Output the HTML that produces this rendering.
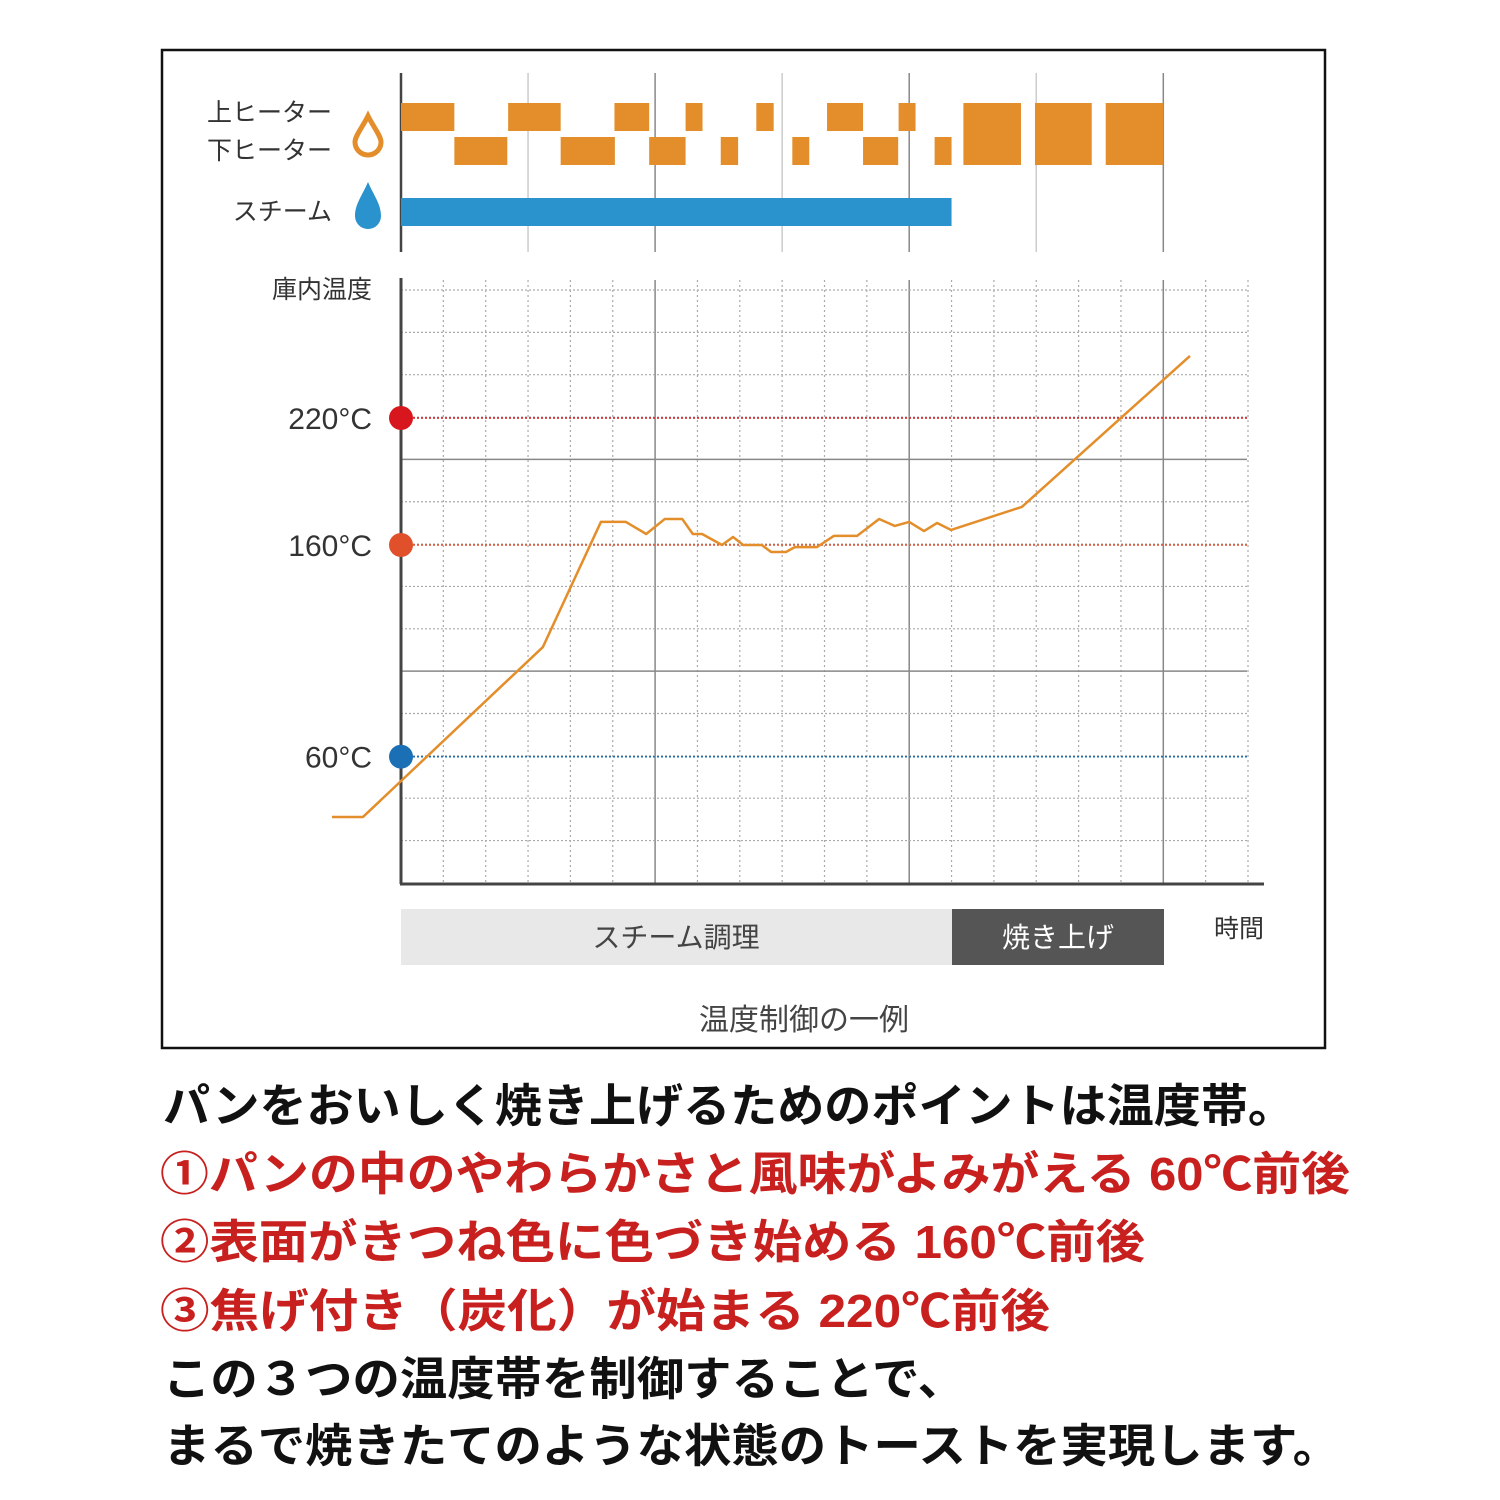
<!DOCTYPE html>
<html><head><meta charset="utf-8"><style>
html,body{margin:0;padding:0;background:#fff;}
svg{display:block;font-family:"Liberation Sans","Noto Sans CJK JP",sans-serif;}
</style></head><body>
<svg id="chart" width="1500" height="1500" viewBox="0 0 1500 1500" xmlns="http://www.w3.org/2000/svg">
<rect x="162" y="50" width="1163" height="998" fill="none" stroke="#111" stroke-width="2.5"/>
<g id="grid"></g>
<g id="bars"></g>
<g id="temp"></g>
<g font-size="25" fill="#333">
<text x="332" y="121" text-anchor="end">上ヒーター</text>
<text x="332" y="159" text-anchor="end">下ヒーター</text>
<text x="332" y="220" text-anchor="end">スチーム</text>
<text x="372" y="298" text-anchor="end">庫内温度</text>
<text x="1264" y="937" text-anchor="end">時間</text>
</g>
<path d="M368,116 C362,128 355,136 355,142 A13,13 0 0 0 381,142 C381,136 374,128 368,116 Z" fill="#fff" stroke="#e38e2b" stroke-width="5"/>
<path d="M368,182 C362,196 355,204 355,216 A13,13 0 0 0 381,216 C381,204 374,196 368,182 Z" fill="#2a93cd"/>
<rect x="401" y="909" width="551" height="56" fill="#e8e8e8"/>
<text x="676" y="947" text-anchor="middle" font-size="28" fill="#444">スチーム調理</text>
<rect x="952" y="909" width="212" height="56" fill="#555"/>
<text x="1058" y="947" text-anchor="middle" font-size="28" fill="#fff">焼き上げ</text>
<text x="804" y="1030" text-anchor="middle" font-size="30" fill="#444">温度制御の一例</text>
<g font-weight="bold" font-size="46">
<text x="163" y="1122" textLength="1132" lengthAdjust="spacingAndGlyphs" fill="#111">パンをおいしく焼き上げるためのポイントは温度帯。</text>
<text x="160" y="1190" textLength="1190" lengthAdjust="spacingAndGlyphs" fill="#c8201e">①パンの中のやわらかさと風味がよみがえる 60℃前後</text>
<text x="160" y="1258" textLength="985" lengthAdjust="spacingAndGlyphs" fill="#c8201e">②表面がきつね色に色づき始める 160℃前後</text>
<text x="160" y="1327" textLength="890" lengthAdjust="spacingAndGlyphs" fill="#c8201e">③焦げ付き（炭化）が始まる 220℃前後</text>
<text x="163" y="1395" textLength="802" lengthAdjust="spacingAndGlyphs" fill="#111">この３つの温度帯を制御することで、</text>
<text x="163" y="1462" textLength="1177" lengthAdjust="spacingAndGlyphs" fill="#111">まるで焼きたてのような状態のトーストを実現します。</text>
</g>
</svg>
<script>
const upperOn = [[0,1.26],[2.53,3.77],[5.04,5.86],[6.72,7.12],[8.39,8.8],[10.06,10.91],[11.75,12.15]];
const lowerOn = [[1.26,2.51],[3.77,5.05],[5.86,6.72],[7.55,7.96],[9.24,9.64],[10.91,11.74],[12.6,13.0]];
const bothOn = [[13.28,14.64],[14.97,16.31],[16.64,18]];
const steamOn = [[0,13.0]];
const timeVals = [-1.63,-0.9,3.35,4.72,5.31,5.79,6.23,6.64,6.89,7.11,7.58,7.84,8.08,8.52,8.74,9.09,9.3,9.82,10.22,10.77,11.29,11.66,12.0,12.35,12.66,12.99,14.66,18.63];
const tempVals = [31.5,31.5,111.8,170.9,170.9,165.2,172.3,172.3,165.2,165.2,160,163.8,160,160,156.7,156.7,159,159,164.3,164.3,172.3,169,170.9,166.6,170.4,167.1,178,249.3];
const markTemps = [220,160,60];
const markLabels = ["220°C","160°C","60°C"];
const markColors = ["#d7161d","#e0502a","#1a6fb5"];

const NS="http://www.w3.org/2000/svg";
const X0=401, DX=42.35;
const xs=t=>X0+t*DX;
const ys=T=>545-(T-160)*2.117;
function mk(tag,attrs,parent){const e=document.createElementNS(NS,tag);for(const k in attrs)e.setAttribute(k,attrs[k]);parent.appendChild(e);return e;}
const grid=document.getElementById('grid'), bars=document.getElementById('bars'), temp=document.getElementById('temp');
// top section verticals
for(let i=0;i<=6;i++){const x=xs(i*3);
 const l=mk('line',{x1:x,x2:x,y1:73,y2:252,stroke:i===0?'#444':(i%2===0?'#888':'#ccc'),'stroke-width':i===0?2.5:1.5},grid);
 
 }
// lower grid
for(let i=1;i<=20;i++){const x=xs(i);const solid=i%6===0;
 const l=mk('line',{x1:x,x2:x,y1:280,y2:884,stroke:solid?'#888':'#aaa','stroke-width':solid?1.5:1.2,'stroke-dasharray':solid?'':'2,3'},grid);
 
 }
for(let j=0;j<14;j++){const y=290+j*42.35;const solid=(j===4||j===9);
 let col=solid?'#888':'#aaa';
 const l=mk('line',{x1:401,x2:1247,y1:y,y2:y,stroke:col,'stroke-width':solid?1.5:1.2,'stroke-dasharray':solid?'':'2,2'},grid);
 
 }
markTemps.forEach((T,i)=>{const l=mk('line',{x1:401,x2:1247,y1:ys(T),y2:ys(T),stroke:markColors[i],'stroke-width':1.5,'stroke-dasharray':'2,2'},grid);
 
 });
const ax=mk('line',{x1:401,x2:401,y1:278,y2:884,stroke:'#444','stroke-width':3},grid);


const bx=mk('line',{x1:400,x2:1264,y1:884,y2:884,stroke:'#444','stroke-width':3},grid);


function drawBars(arr,y,h,col,name){arr.forEach(([a,b])=>{const r=mk('rect',{x:xs(a),y:y,width:xs(b)-xs(a),height:h,fill:col},bars);
 
 });}
drawBars(upperOn,103,28,'#e38e2b','upper-heater-bar');
drawBars(lowerOn,137,28,'#e38e2b','lower-heater-bar');
drawBars(bothOn,103,62,'#e38e2b','both-heaters-bar');
drawBars(steamOn,198,28,'#2a93cd','steam-bar');
const pts=timeVals.map((t,i)=>xs(t)+','+ys(tempVals[i])).join(' ');
const pl=mk('polyline',{points:pts,fill:'none',stroke:'#e38e2b','stroke-width':2.5,'stroke-linejoin':'round'},temp);


markTemps.forEach((T,i)=>{
 const c=mk('circle',{cx:401,cy:ys(T),r:12,fill:markColors[i]},temp);
 
 
 const t=mk('text',{x:372,y:ys(T)+11,'text-anchor':'end','font-size':30,fill:'#333'},temp);
 t.textContent=markLabels[i];
 
 
});
</script>
</body></html>
